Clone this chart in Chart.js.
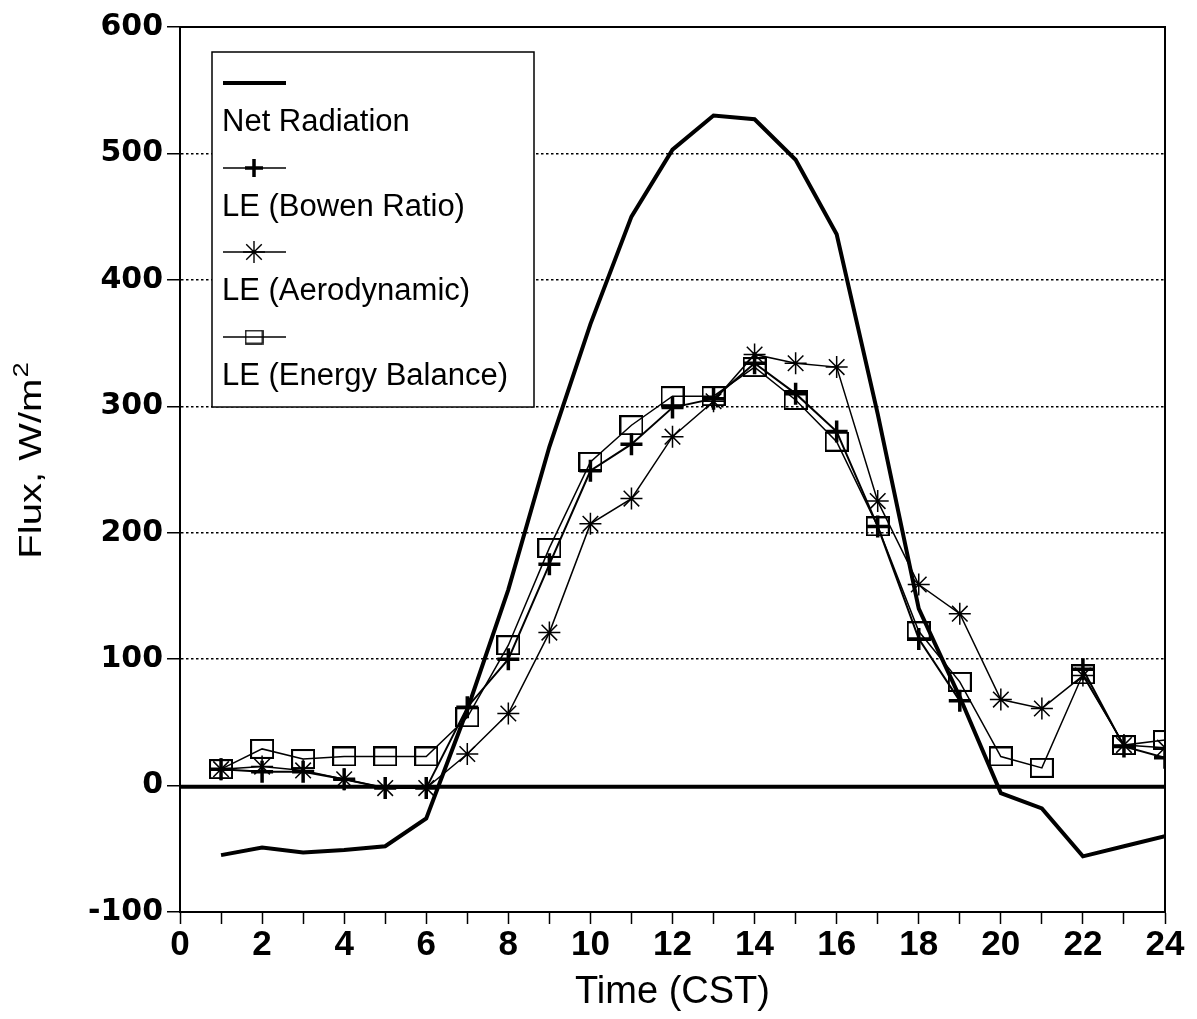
<!DOCTYPE html>
<html><head><meta charset="utf-8">
<script src="https://cdn.jsdelivr.net/npm/chart.js@4.4.1/dist/chart.umd.min.js"></script>
<style>html,body{margin:0;padding:0;background:#fff;} canvas{display:block;}</style>
</head><body>
<canvas id="c" width="1197" height="1019"></canvas>
<script>
// ---- data ----
const hours = [1,2,3,4,5,6,7,8,9,10,11,12,13,14,15,16,17,18,19,20,21,22,23,24];
const netRadiation  = [-55,-49,-53,-51,-48,-26,60,155,268,365,450,503,530,527,495,436,294,140,70,-6,-18,-56,-48,-40];
const bowenRatio    = [13,11,11,5,-2,-2,62,100,175,249,270,299,306,334,310,280,205,116,67,null,null,92,31,22];
const aerodynamic   = [13,15,12,5,-2,-2,25,57,121,207,227,276,304,341,334,331,225,159,136,68,61,87,32,30];
const energyBalance = [13,29,21,23,23,23,54,111,188,256,285,308,308,331,305,272,205,122,82,23,14,88,32,36];
const seriesLabels = ['Net Radiation','LE (Bowen Ratio)','LE (Aerodynamic)','LE (Energy Balance)'];
const xTickLabels = ['0','2','4','6','8','10','12','14','16','18','20','22','24'];
const yTickValues = [-100,0,100,200,300,400,500,600];
const xTitle = 'Time (CST)';
const yTitleMain = 'Flux, W/m';
const yTitleSup = '2';
const zeroLineX = [0,24];
const zeroLineY = [-1,-1];

const toPts = (ys) => hours.map((h,i)=>({x:h,y:ys[i]}));

// open rectangle marker
const boxImg = document.createElement('canvas');
boxImg.width = 24; boxImg.height = 20;
(function(){const g=boxImg.getContext('2d');g.strokeStyle='#000';g.lineWidth=2;g.strokeRect(1,1,22,18);})();
const boxImgSmall = document.createElement('canvas');
boxImgSmall.width = 19; boxImgSmall.height = 15;
(function(){const g=boxImgSmall.getContext('2d');g.strokeStyle='#000';g.lineWidth=1.6;g.strokeRect(1,1,17,13);})();

const frameAndLegend = {
  id:'frameAndLegend',
  afterDraw(chart){
    const {ctx, chartArea:a} = chart;
    ctx.save();
    ctx.strokeStyle='#000';
    ctx.lineWidth=2;
    ctx.beginPath();
    ctx.moveTo(a.left, a.top); ctx.lineTo(a.right, a.top); ctx.lineTo(a.right, a.bottom);
    ctx.stroke();
    // legend box
    const lx=212, ly=52, lw=322, lh=355;
    ctx.fillStyle='#fff';
    ctx.fillRect(lx,ly,lw,lh);
    ctx.lineWidth=1.5;
    ctx.strokeRect(lx,ly,lw,lh);
    const rows=[83,168,252,337];
    ctx.font='31px "Liberation Sans", Arial, sans-serif';
    ctx.textBaseline='middle';
    ctx.textAlign='left';
    ctx.fillStyle='#000';
    chart.data.datasets.slice(0,4).forEach((ds,i)=>{
      const y=rows[i];
      ctx.beginPath();
      ctx.lineWidth = i===0 ? 4 : 1.5;
      ctx.moveTo(223,y); ctx.lineTo(286,y); ctx.stroke();
      if(i===1){ ctx.lineWidth=3.5; Chart.helpers.drawPoint(ctx,{pointStyle:'cross',radius:9,borderWidth:3.5,rotation:0},254,y); }
      if(i===2){ ctx.lineWidth=1.4; Chart.helpers.drawPoint(ctx,{pointStyle:'star',radius:11,borderWidth:1.4,rotation:0},254,y); }
      if(i===3){ ctx.drawImage(boxImgSmall,254-9.5,y-7.5); }
      ctx.fillText(ds.label,222,y+39);
    });
    // y axis title
    ctx.save();
    ctx.translate(41,461);
    ctx.rotate(-Math.PI/2);
    ctx.scale(1.25,1);
    ctx.textBaseline='alphabetic';
    ctx.font='32px "Liberation Sans", Arial, sans-serif';
    const w1=ctx.measureText(yTitleMain).width;
    ctx.font='22px "Liberation Sans", Arial, sans-serif';
    const w2=ctx.measureText(yTitleSup).width;
    const start=-(w1+w2)/2;
    ctx.font='32px "Liberation Sans", Arial, sans-serif';
    ctx.fillText(yTitleMain,start,0);
    ctx.font='22px "Liberation Sans", Arial, sans-serif';
    ctx.fillText(yTitleSup,start+w1+1,-13);
    ctx.restore();
    ctx.restore();
  }
};

new Chart(document.getElementById('c'),{
  type:'line',
  data:{datasets:[
    {label:seriesLabels[0],data:toPts(netRadiation),borderColor:'#000',borderWidth:4,pointRadius:0,tension:0},
    {label:seriesLabels[1],data:toPts(bowenRatio),borderColor:'#000',borderWidth:2,pointStyle:'cross',pointRadius:11,pointBorderWidth:3.5,pointBorderColor:'#000',spanGaps:false},
    {label:seriesLabels[2],data:toPts(aerodynamic),borderColor:'#000',borderWidth:1.5,pointStyle:'star',pointRadius:11,pointBorderWidth:1.5,pointBorderColor:'#000'},
    {label:seriesLabels[3],data:toPts(energyBalance),borderColor:'#000',borderWidth:1.5,pointStyle:boxImg,pointRadius:10},
    {label:'zero',data:zeroLineX.map((x,i)=>({x:x,y:zeroLineY[i]})),borderColor:'#000',borderWidth:4,pointRadius:0}
  ]},
  options:{
    responsive:false,animation:false,
    layout:{padding:{top:27,right:32,left:0,bottom:0}},
    plugins:{legend:{display:false},tooltip:{enabled:false}},
    elements:{line:{tension:0}},
    scales:{
      x:{type:'linear',min:0,max:24,
        afterFit(s){s.height=107;},
        ticks:{stepSize:1,autoSkip:false,maxRotation:0,color:'#000',padding:0,
          font:{family:'"Liberation Sans", Arial, sans-serif',size:35,weight:'bold'},
          callback:(v)=> xTickLabels.includes(String(v)) ? String(v) : ''},
        grid:{drawOnChartArea:false,drawTicks:true,tickLength:12,tickColor:'#000',tickWidth:1.5,tickBorderDash:[]},
        border:{display:true,color:'#000',width:2},
        title:{display:true,text:xTitle,color:'#000',padding:{top:0,bottom:4},
          font:{family:'"Liberation Sans", Arial, sans-serif',size:38}}
      },
      y:{type:'linear',min:-100,max:600,
        afterFit(s){s.width=180;},
        afterBuildTicks(s){s.ticks=yTickValues.map(v=>({value:v}));},
        ticks:{color:'#000',padding:4,
          font:{family:'"DejaVu Sans", sans-serif',size:30,weight:'bold'}},
        grid:{drawOnChartArea:true,drawTicks:true,tickLength:13,tickColor:'#000',tickWidth:1.5,tickBorderDash:[],
          lineWidth:1.5,
          color:(c)=> (c.tick && c.tick.value>0 && c.tick.value<600) ? '#000' : 'rgba(0,0,0,0)'},
        border:{display:true,color:'#000',width:2,dash:[2.5,2.5]},
        title:{display:false}
      }
    }
  },
  plugins:[frameAndLegend]
});
</script>
</body></html>
